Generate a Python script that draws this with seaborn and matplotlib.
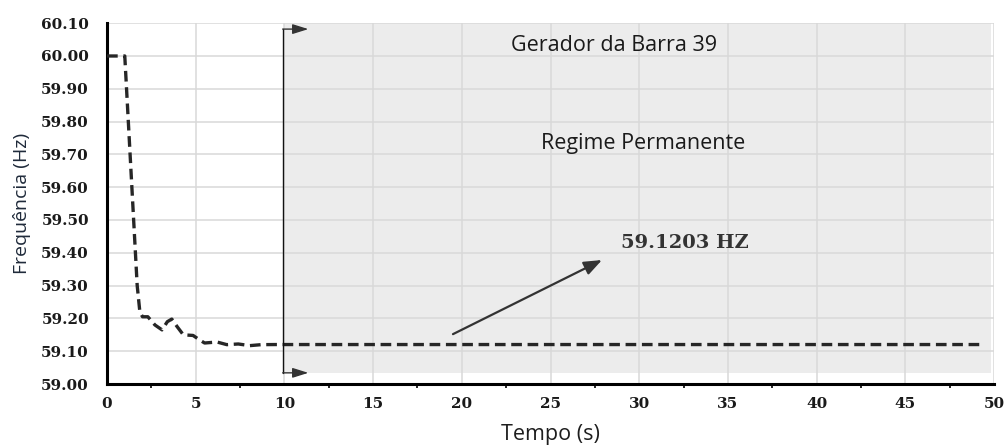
import matplotlib
matplotlib.use("Agg")
import matplotlib.pyplot as plt
from matplotlib.patches import Rectangle
from matplotlib.ticker import MultipleLocator, FormatStrFormatter
import numpy as np
import pandas as pd
import seaborn as sns

# Frequency response of the generator at bus 39
tempo_s = [0.0, 1.0, 1.25, 1.5, 1.6, 1.7, 1.85, 2.0, 2.3, 2.7, 3.1, 3.4, 3.65,
           3.95, 4.3, 4.85, 5.2, 5.5, 6.2, 6.75, 7.4, 8.05, 8.7, 9.5, 49.3]
frequencia_hz = [60.00, 60.00, 59.75, 59.50, 59.40, 59.30, 59.22, 59.205, 59.205,
                 59.18, 59.165, 59.19, 59.198, 59.175, 59.15, 59.148, 59.135,
                 59.125, 59.128, 59.12, 59.122, 59.117, 59.12, 59.1203, 59.1203]
freq_final = 59.1203
regime_inicio = 10.0
regime_fim = 49.85

df = pd.DataFrame({"Tempo (s)": tempo_s, "Frequência (Hz)": frequencia_hz})

sns.set_theme(style="white")
plt.rcParams["font.family"] = ["Open Sans", "DejaVu Sans"]

fig = plt.figure(figsize=(10.05, 4.46), dpi=100)
ax = fig.add_axes([0.1065, 0.139, 0.8826, 0.809])

# steady-state shaded region
ax.add_patch(Rectangle((regime_inicio, 59.034), regime_fim - regime_inicio, 60.10 - 59.034,
                       facecolor="#ececec", edgecolor="none", zorder=0.3))

sns.lineplot(data=df, x="Tempo (s)", y="Frequência (Hz)", ax=ax, color="#262626",
             linewidth=2.4, linestyle=(0, (3.2, 1.7)), zorder=3)

ax.set_xlim(0, 50)
ax.set_ylim(59.00, 60.10)
ax.xaxis.set_major_locator(MultipleLocator(5))
ax.xaxis.set_minor_locator(MultipleLocator(2.5))
ax.yaxis.set_major_locator(MultipleLocator(0.1))
ax.yaxis.set_major_formatter(FormatStrFormatter("%.2f"))

ax.set_axisbelow(True)
ax.grid(True, which="major", color="#d9d9d9", linewidth=1.1)

for s in ["top", "right"]:
    ax.spines[s].set_visible(False)
for s in ["left", "bottom"]:
    ax.spines[s].set_color("black")
    ax.spines[s].set_linewidth(2.2)

ax.tick_params(axis="x", which="major", direction="out", length=4, width=1.5,
               colors="black", pad=5)
ax.tick_params(axis="x", which="minor", direction="out", length=3, width=1.2,
               colors="black", bottom=True)
ax.tick_params(axis="y", which="major", direction="inout", length=6, width=1.5,
               colors="black", pad=10)
for lab in ax.get_xticklabels() + ax.get_yticklabels():
    lab.set_fontfamily("DejaVu Serif")
    lab.set_fontweight("bold")
    lab.set_fontsize(11)
    lab.set_color("#1a1a1a")

ax.set_xlabel("Tempo (s)", fontsize=15.5, color="#1e1e1e", labelpad=10)
ax.set_ylabel("Frequência (Hz)", fontsize=14, color="#1f2a3a", labelpad=7)

# bracket marking the start of the steady state
ax.plot([9.9, 9.9], [59.034, 60.082], color="#111111", linewidth=1.0, zorder=4)
for yb in (60.082, 59.034):
    ax.annotate("", xy=(11.35, yb), xytext=(9.9, yb),
                arrowprops=dict(arrowstyle="-|>,head_length=0.8,head_width=0.25",
                                color="#333333", lw=1.0, shrinkA=0, shrinkB=0),
                zorder=4)

ax.text(28.6, 60.033, "Gerador da Barra 39", fontsize=15.5, color="#1a1a1a",
        ha="center", va="center")
ax.text(30.2, 59.734, "Regime Permanente", fontsize=15.5, color="#1a1a1a",
        ha="center", va="center")

# pointer to the steady-state value
ax.annotate("", xy=(27.9, 59.378), xytext=(19.5, 59.152),
            arrowprops=dict(arrowstyle="-|>,head_length=0.9,head_width=0.35",
                            color="#333333", lw=1.6, shrinkA=0, shrinkB=0),
            zorder=4)
ax.text(32.6, 59.43, f"{freq_final:.4f} HZ", fontsize=14, fontweight="bold",
        family="DejaVu Serif", color="#333333", ha="center", va="center")

fig.savefig("out.png", dpi=100)
